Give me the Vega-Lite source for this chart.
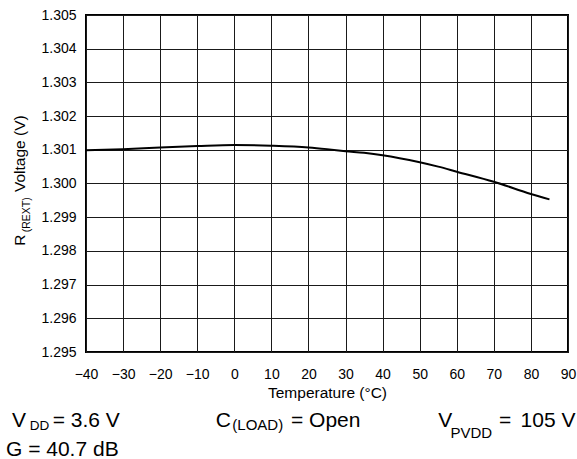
{
  "$schema": "https://vega.github.io/schema/vega-lite/v6.json",
  "width": 482,
  "height": 337,
  "autosize": {"type": "none"},
  "padding": {"left": 86, "top": 15, "right": 9, "bottom": 107},
  "background": "white",
  "config": {
    "font": "Liberation Sans",
    "view": {"stroke": "black", "strokeWidth": 2},
    "text": {"font": "Liberation Sans", "color": "black"},
    "axis": {
      "labelFont": "Liberation Sans",
      "titleFont": "Liberation Sans",
      "labelColor": "black",
      "titleColor": "black",
      "gridColor": "#1a1a1a",
      "gridWidth": 1,
      "gridOpacity": 1,
      "grid": true,
      "domain": false,
      "ticks": false,
      "tickSize": 0,
      "labelFontSize": 14,
      "labelFlush": false,
      "labelOverlap": false,
      "titleFontSize": 15.5,
      "titleFontWeight": "normal"
    },
    "axisX": {"labelPadding": 15, "titlePadding": 4},
    "axisY": {"labelPadding": 10}
  },
  "data": {
    "values": [
      {"temperature": -40, "voltage": 1.30099},
      {"temperature": -30, "voltage": 1.30102},
      {"temperature": -20, "voltage": 1.30107},
      {"temperature": -10, "voltage": 1.30111},
      {"temperature": 0, "voltage": 1.30114},
      {"temperature": 10, "voltage": 1.30112},
      {"temperature": 20, "voltage": 1.30107},
      {"temperature": 25, "voltage": 1.30102},
      {"temperature": 30, "voltage": 1.30096},
      {"temperature": 35, "voltage": 1.30091},
      {"temperature": 40, "voltage": 1.30084},
      {"temperature": 50, "voltage": 1.30063},
      {"temperature": 55, "voltage": 1.3005},
      {"temperature": 60, "voltage": 1.30035},
      {"temperature": 70, "voltage": 1.30005},
      {"temperature": 80, "voltage": 1.29969},
      {"temperature": 85, "voltage": 1.29953}
    ]
  },
  "layer": [
    {
      "mark": {"type": "line", "color": "black", "strokeWidth": 2, "interpolate": "monotone"},
      "encoding": {
        "x": {"field": "temperature", "type": "quantitative", "scale": {"domain": [-40, 90], "nice": false, "zero": false},
          "axis": {"values": [-40, -30, -20, -10, 0, 10, 20, 30, 40, 50, 60, 70, 80, 90], "title": "Temperature (°C)"}},
        "y": {"field": "voltage", "type": "quantitative", "scale": {"domain": [1.295, 1.305], "nice": false, "zero": false},
          "axis": {"values": [1.295, 1.296, 1.297, 1.298, 1.299, 1.3, 1.301, 1.302, 1.303, 1.304, 1.305], "format": ".3f", "title": null}}
      }
    },
    {
      "data": {"values": [{"label": "R"}]},
      "mark": {"type": "text", "fontSize": 15.5, "angle": 270, "align": "left", "baseline": "alphabetic"},
      "encoding": {"text": {"field": "label"},
        "x": {"datum": -56.45, "type": "quantitative", "axis": {"values": [-40, -30, -20, -10, 0, 10, 20, 30, 40, 50, 60, 70, 80, 90], "title": "Temperature (°C)"}},
        "y": {"datum": 1.29815, "type": "quantitative", "axis": {"values": [1.295, 1.296, 1.297, 1.298, 1.299, 1.3, 1.301, 1.302, 1.303, 1.304, 1.305], "format": ".3f", "title": null}}}
    },
    {
      "data": {"values": [{"label": "(REXT)"}]},
      "mark": {"type": "text", "fontSize": 10.5, "angle": 270, "align": "left", "baseline": "alphabetic"},
      "encoding": {"text": {"field": "label"},
        "x": {"datum": -55.1, "type": "quantitative", "axis": {"values": [-40, -30, -20, -10, 0, 10, 20, 30, 40, 50, 60, 70, 80, 90], "title": "Temperature (°C)"}},
        "y": {"datum": 1.29855, "type": "quantitative", "axis": {"values": [1.295, 1.296, 1.297, 1.298, 1.299, 1.3, 1.301, 1.302, 1.303, 1.304, 1.305], "format": ".3f", "title": null}}}
    },
    {
      "data": {"values": [{"label": "Voltage (V)"}]},
      "mark": {"type": "text", "fontSize": 15.5, "angle": 270, "align": "left", "baseline": "alphabetic"},
      "encoding": {"text": {"field": "label"},
        "x": {"datum": -56.45, "type": "quantitative", "axis": {"values": [-40, -30, -20, -10, 0, 10, 20, 30, 40, 50, 60, 70, 80, 90], "title": "Temperature (°C)"}},
        "y": {"datum": 1.299748, "type": "quantitative", "axis": {"values": [1.295, 1.296, 1.297, 1.298, 1.299, 1.3, 1.301, 1.302, 1.303, 1.304, 1.305], "format": ".3f", "title": null}}}
    },
    {
      "data": {"values": [{"label": "V"}]},
      "mark": {"type": "text", "fontSize": 21, "align": "left", "baseline": "alphabetic"},
      "encoding": {"text": {"field": "label"},
        "x": {"datum": -59.96, "type": "quantitative", "axis": {"values": [-40, -30, -20, -10, 0, 10, 20, 30, 40, 50, 60, 70, 80, 90], "title": "Temperature (°C)"}},
        "y": {"datum": 1.292774, "type": "quantitative", "axis": {"values": [1.295, 1.296, 1.297, 1.298, 1.299, 1.3, 1.301, 1.302, 1.303, 1.304, 1.305], "format": ".3f", "title": null}}}
    },
    {
      "data": {"values": [{"label": "DD"}]},
      "mark": {"type": "text", "fontSize": 13.5, "align": "left", "baseline": "alphabetic"},
      "encoding": {"text": {"field": "label"},
        "x": {"datum": -55.2, "type": "quantitative", "axis": {"values": [-40, -30, -20, -10, 0, 10, 20, 30, 40, 50, 60, 70, 80, 90], "title": "Temperature (°C)"}},
        "y": {"datum": 1.2927, "type": "quantitative", "axis": {"values": [1.295, 1.296, 1.297, 1.298, 1.299, 1.3, 1.301, 1.302, 1.303, 1.304, 1.305], "format": ".3f", "title": null}}}
    },
    {
      "data": {"values": [{"label": "= 3.6 V"}]},
      "mark": {"type": "text", "fontSize": 21, "align": "left", "baseline": "alphabetic"},
      "encoding": {"text": {"field": "label"},
        "x": {"datum": -49.0, "type": "quantitative", "axis": {"values": [-40, -30, -20, -10, 0, 10, 20, 30, 40, 50, 60, 70, 80, 90], "title": "Temperature (°C)"}},
        "y": {"datum": 1.292774, "type": "quantitative", "axis": {"values": [1.295, 1.296, 1.297, 1.298, 1.299, 1.3, 1.301, 1.302, 1.303, 1.304, 1.305], "format": ".3f", "title": null}}}
    },
    {
      "data": {"values": [{"label": "C"}]},
      "mark": {"type": "text", "fontSize": 21, "align": "left", "baseline": "alphabetic"},
      "encoding": {"text": {"field": "label"},
        "x": {"datum": -5.02, "type": "quantitative", "axis": {"values": [-40, -30, -20, -10, 0, 10, 20, 30, 40, 50, 60, 70, 80, 90], "title": "Temperature (°C)"}},
        "y": {"datum": 1.292774, "type": "quantitative", "axis": {"values": [1.295, 1.296, 1.297, 1.298, 1.299, 1.3, 1.301, 1.302, 1.303, 1.304, 1.305], "format": ".3f", "title": null}}}
    },
    {
      "data": {"values": [{"label": "(LOAD)"}]},
      "mark": {"type": "text", "fontSize": 15, "align": "left", "baseline": "alphabetic"},
      "encoding": {"text": {"field": "label"},
        "x": {"datum": -0.54, "type": "quantitative", "axis": {"values": [-40, -30, -20, -10, 0, 10, 20, 30, 40, 50, 60, 70, 80, 90], "title": "Temperature (°C)"}},
        "y": {"datum": 1.2927, "type": "quantitative", "axis": {"values": [1.295, 1.296, 1.297, 1.298, 1.299, 1.3, 1.301, 1.302, 1.303, 1.304, 1.305], "format": ".3f", "title": null}}}
    },
    {
      "data": {"values": [{"label": "= Open"}]},
      "mark": {"type": "text", "fontSize": 21, "align": "left", "baseline": "alphabetic"},
      "encoding": {"text": {"field": "label"},
        "x": {"datum": 15.29, "type": "quantitative", "axis": {"values": [-40, -30, -20, -10, 0, 10, 20, 30, 40, 50, 60, 70, 80, 90], "title": "Temperature (°C)"}},
        "y": {"datum": 1.292774, "type": "quantitative", "axis": {"values": [1.295, 1.296, 1.297, 1.298, 1.299, 1.3, 1.301, 1.302, 1.303, 1.304, 1.305], "format": ".3f", "title": null}}}
    },
    {
      "data": {"values": [{"label": "V"}]},
      "mark": {"type": "text", "fontSize": 21, "align": "left", "baseline": "alphabetic"},
      "encoding": {"text": {"field": "label"},
        "x": {"datum": 55.02, "type": "quantitative", "axis": {"values": [-40, -30, -20, -10, 0, 10, 20, 30, 40, 50, 60, 70, 80, 90], "title": "Temperature (°C)"}},
        "y": {"datum": 1.292774, "type": "quantitative", "axis": {"values": [1.295, 1.296, 1.297, 1.298, 1.299, 1.3, 1.301, 1.302, 1.303, 1.304, 1.305], "format": ".3f", "title": null}}}
    },
    {
      "data": {"values": [{"label": "PVDD"}]},
      "mark": {"type": "text", "fontSize": 15, "align": "left", "baseline": "alphabetic"},
      "encoding": {"text": {"field": "label"},
        "x": {"datum": 58.31, "type": "quantitative", "axis": {"values": [-40, -30, -20, -10, 0, 10, 20, 30, 40, 50, 60, 70, 80, 90], "title": "Temperature (°C)"}},
        "y": {"datum": 1.292457, "type": "quantitative", "axis": {"values": [1.295, 1.296, 1.297, 1.298, 1.299, 1.3, 1.301, 1.302, 1.303, 1.304, 1.305], "format": ".3f", "title": null}}}
    },
    {
      "data": {"values": [{"label": "="}]},
      "mark": {"type": "text", "fontSize": 21, "align": "left", "baseline": "alphabetic"},
      "encoding": {"text": {"field": "label"},
        "x": {"datum": 71.39, "type": "quantitative", "axis": {"values": [-40, -30, -20, -10, 0, 10, 20, 30, 40, 50, 60, 70, 80, 90], "title": "Temperature (°C)"}},
        "y": {"datum": 1.292774, "type": "quantitative", "axis": {"values": [1.295, 1.296, 1.297, 1.298, 1.299, 1.3, 1.301, 1.302, 1.303, 1.304, 1.305], "format": ".3f", "title": null}}}
    },
    {
      "data": {"values": [{"label": "105 V"}]},
      "mark": {"type": "text", "fontSize": 21, "align": "left", "baseline": "alphabetic"},
      "encoding": {"text": {"field": "label"},
        "x": {"datum": 77.2, "type": "quantitative", "axis": {"values": [-40, -30, -20, -10, 0, 10, 20, 30, 40, 50, 60, 70, 80, 90], "title": "Temperature (°C)"}},
        "y": {"datum": 1.292774, "type": "quantitative", "axis": {"values": [1.295, 1.296, 1.297, 1.298, 1.299, 1.3, 1.301, 1.302, 1.303, 1.304, 1.305], "format": ".3f", "title": null}}}
    },
    {
      "data": {"values": [{"label": "G = 40.7 dB"}]},
      "mark": {"type": "text", "fontSize": 21, "align": "left", "baseline": "alphabetic"},
      "encoding": {"text": {"field": "label"},
        "x": {"datum": -61.58, "type": "quantitative", "axis": {"values": [-40, -30, -20, -10, 0, 10, 20, 30, 40, 50, 60, 70, 80, 90], "title": "Temperature (°C)"}},
        "y": {"datum": 1.291914, "type": "quantitative", "axis": {"values": [1.295, 1.296, 1.297, 1.298, 1.299, 1.3, 1.301, 1.302, 1.303, 1.304, 1.305], "format": ".3f", "title": null}}}
    }
  ]
}
